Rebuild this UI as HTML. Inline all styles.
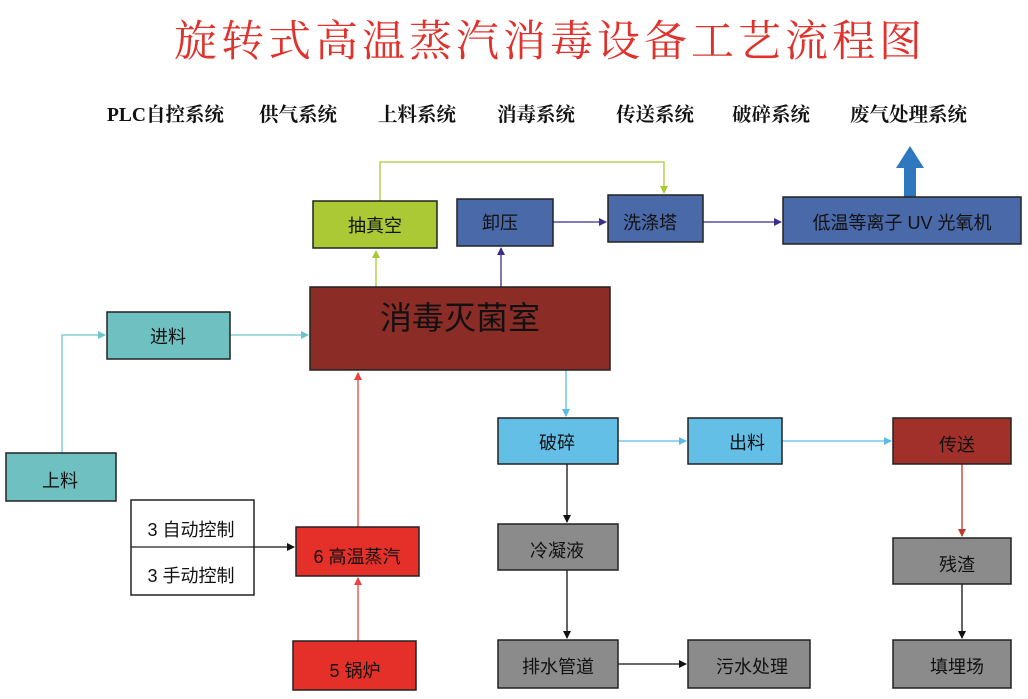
<!DOCTYPE html>
<html><head><meta charset="utf-8"><style>
html,body{margin:0;padding:0;background:#fff;}
svg{display:block;}
.t{font-family:"Liberation Sans","Noto Sans CJK SC",sans-serif;font-size:18px;fill:#111;text-anchor:middle;dominant-baseline:central;}
.s{font-family:"Liberation Serif","Noto Serif CJK SC",serif;font-size:19.5px;font-weight:bold;fill:#111;}
rect.b{stroke:#222;stroke-width:1.5;}
</style></head><body>
<svg width="1028" height="699" viewBox="0 0 1028 699" xmlns="http://www.w3.org/2000/svg">
<defs>
<marker id="ac" markerWidth="8" markerHeight="8" refX="7" refY="4" orient="auto" markerUnits="userSpaceOnUse"><path d="M0,0 L8,4 L0,8z" fill="#6cc5cc"/></marker>
<marker id="ag" markerWidth="8" markerHeight="8" refX="7" refY="4" orient="auto" markerUnits="userSpaceOnUse"><path d="M0,0 L8,4 L0,8z" fill="#a9c934"/></marker>
<marker id="ap" markerWidth="8" markerHeight="8" refX="7" refY="4" orient="auto" markerUnits="userSpaceOnUse"><path d="M0,0 L8,4 L0,8z" fill="#3b2e8a"/></marker>
<marker id="ar" markerWidth="8" markerHeight="8" refX="7" refY="4" orient="auto" markerUnits="userSpaceOnUse"><path d="M0,0 L8,4 L0,8z" fill="#ee4040"/></marker>
<marker id="ab" markerWidth="8" markerHeight="8" refX="7" refY="4" orient="auto" markerUnits="userSpaceOnUse"><path d="M0,0 L8,4 L0,8z" fill="#111"/></marker>
<marker id="al" markerWidth="8" markerHeight="8" refX="7" refY="4" orient="auto" markerUnits="userSpaceOnUse"><path d="M0,0 L8,4 L0,8z" fill="#5bbce6"/></marker>
<marker id="ao" markerWidth="8" markerHeight="8" refX="7" refY="4" orient="auto" markerUnits="userSpaceOnUse"><path d="M0,0 L8,4 L0,8z" fill="#c0392b"/></marker>
</defs>
<text x="550" y="56" text-anchor="middle" style="font-family:'Noto Serif CJK SC',serif;font-size:43px;fill:#e0322c;letter-spacing:4px">旋转式高温蒸汽消毒设备工艺流程图</text>
<text class="s" x="107" y="121">PLC自控系统</text>
<text class="s" x="259" y="121">供气系统</text>
<text class="s" x="378" y="121">上料系统</text>
<text class="s" x="497" y="121">消毒系统</text>
<text class="s" x="616" y="121">传送系统</text>
<text class="s" x="732" y="121">破碎系统</text>
<text class="s" x="850" y="121">废气处理系统</text>

<polyline points="380,201 380,162 664,162 664,193" fill="none" stroke="#a9c934" stroke-width="1.3" marker-end="url(#ag)"/>
<line x1="376" y1="287" x2="376" y2="251" stroke="#a9c934" stroke-width="1.3" marker-end="url(#ag)"/>
<line x1="501" y1="287" x2="501" y2="248" stroke="#3b2e8a" stroke-width="1.3" marker-end="url(#ap)"/>
<line x1="553" y1="222" x2="606" y2="222" stroke="#3b2e8a" stroke-width="1.3" marker-end="url(#ap)"/>
<line x1="703" y1="222" x2="781" y2="222" stroke="#3b2e8a" stroke-width="1.3" marker-end="url(#ap)"/>
<polyline points="62,453 62,335 105,335" fill="none" stroke="#6cc5cc" stroke-width="1.3" marker-end="url(#ac)"/>
<line x1="230" y1="335" x2="308" y2="335" stroke="#6cc5cc" stroke-width="1.3" marker-end="url(#ac)"/>
<line x1="358" y1="527" x2="358" y2="373" stroke="#ee4040" stroke-width="1.3" marker-end="url(#ar)"/>
<line x1="358" y1="641" x2="358" y2="578" stroke="#ee4040" stroke-width="1.3" marker-end="url(#ar)"/>
<line x1="254" y1="547" x2="294" y2="547" stroke="#111" stroke-width="1.3" marker-end="url(#ab)"/>
<line x1="566" y1="370" x2="566" y2="416" stroke="#5bbce6" stroke-width="1.3" marker-end="url(#al)"/>
<line x1="618" y1="441" x2="686" y2="441" stroke="#5bbce6" stroke-width="1.3" marker-end="url(#al)"/>
<line x1="782" y1="441" x2="891" y2="441" stroke="#5bbce6" stroke-width="1.3" marker-end="url(#al)"/>
<line x1="567" y1="464" x2="567" y2="522" stroke="#111" stroke-width="1.3" marker-end="url(#ab)"/>
<line x1="567" y1="570" x2="567" y2="638" stroke="#111" stroke-width="1.3" marker-end="url(#ab)"/>
<line x1="618" y1="664" x2="686" y2="664" stroke="#111" stroke-width="1.3" marker-end="url(#ab)"/>
<line x1="962" y1="464" x2="962" y2="536" stroke="#c0392b" stroke-width="1.3" marker-end="url(#ao)"/>
<line x1="962" y1="584" x2="962" y2="638" stroke="#111" stroke-width="1.3" marker-end="url(#ab)"/>
<path d="M904,197 L904,168 L896,168 L910,146 L924,168 L916,168 L916,197z" fill="#2f78c0"/>

<rect class="b" x="313" y="201" width="124" height="47" fill="#abc934"/><text class="t" x="375" y="226">抽真空</text>
<rect class="b" x="457" y="199" width="96" height="47" fill="#4a69a8"/><text class="t" x="500" y="223">卸压</text>
<rect class="b" x="608" y="195" width="95" height="47" fill="#4a69a8"/><text class="t" x="650" y="223">洗涤塔</text>
<rect class="b" x="783" y="197" width="238" height="47" fill="#4a69a8"/><text class="t" x="902" y="223">低温等离子 UV 光氧机</text>
<rect class="b" x="310" y="287" width="300" height="83" fill="#8b2c27"/><text class="t" x="460" y="318" style="font-size:32px">消毒灭菌室</text>
<rect class="b" x="107" y="312" width="123" height="47" fill="#6fc0c1"/><text class="t" x="168" y="337">进料</text>
<rect class="b" x="6" y="453" width="110" height="48" fill="#6fc0c1"/><text class="t" x="60" y="481">上料</text>
<rect class="b" x="131" y="500" width="123" height="95" fill="#fff"/><line x1="131" y1="547" x2="254" y2="547" stroke="#222" stroke-width="1.3"/>
<text class="t" x="191" y="530">3 自动控制</text><text class="t" x="191" y="576">3 手动控制</text>
<rect class="b" x="296" y="527" width="123" height="49" fill="#e5302a"/><text class="t" x="357" y="557">6 高温蒸汽</text>
<rect class="b" x="293" y="641" width="123" height="49" fill="#e5302a"/><text class="t" x="355" y="671">5 锅炉</text>
<rect class="b" x="498" y="418" width="120" height="46" fill="#63bfe6"/><text class="t" x="557" y="443">破碎</text>
<rect class="b" x="688" y="418" width="94" height="46" fill="#63bfe6"/><text class="t" x="747" y="443">出料</text>
<rect class="b" x="893" y="418" width="118" height="46" fill="#a1302a"/><text class="t" x="957" y="445">传送</text>
<rect class="b" x="498" y="524" width="120" height="46" fill="#8c8b8c"/><text class="t" x="557" y="551">冷凝液</text>
<rect class="b" x="498" y="640" width="120" height="48" fill="#8c8b8c"/><text class="t" x="558" y="667">排水管道</text>
<rect class="b" x="688" y="640" width="122" height="48" fill="#8c8b8c"/><text class="t" x="752" y="667">污水处理</text>
<rect class="b" x="893" y="538" width="118" height="46" fill="#8c8b8c"/><text class="t" x="957" y="565">残渣</text>
<rect class="b" x="893" y="640" width="118" height="48" fill="#8c8b8c"/><text class="t" x="957" y="667">填埋场</text>
</svg>
</body></html>
